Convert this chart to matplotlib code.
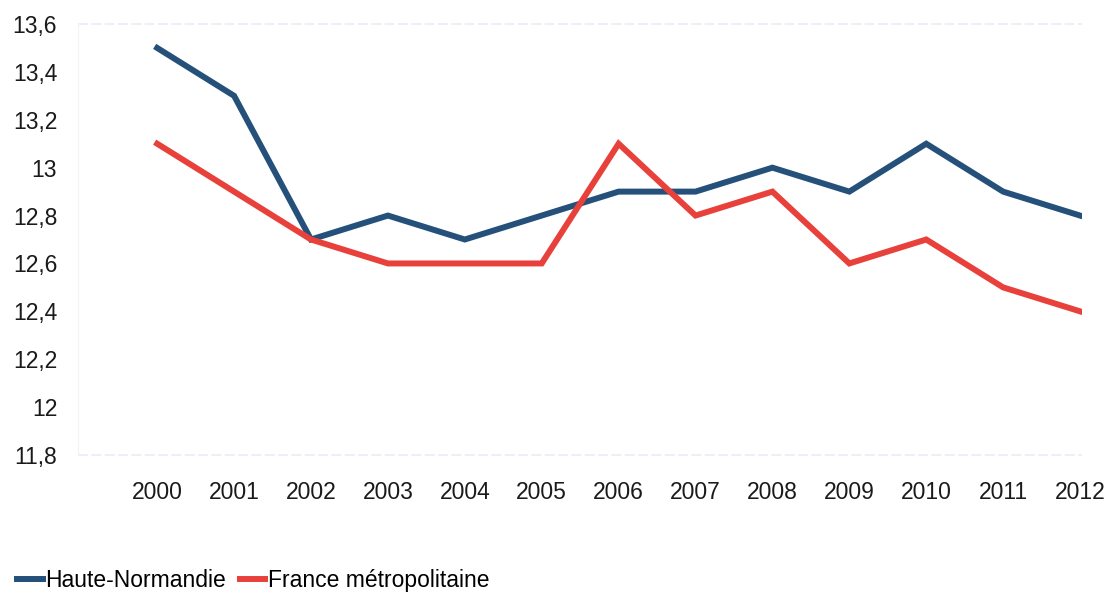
import matplotlib
matplotlib.use('Agg')
import matplotlib.pyplot as plt

years = [2000, 2001, 2002, 2003, 2004, 2005, 2006, 2007, 2008, 2009, 2010, 2011, 2012]
haute_normandie = [13.5, 13.3, 12.7, 12.8, 12.7, 12.8, 12.9, 12.9, 13.0, 12.9, 13.1, 12.9, 12.8]
france_metro = [13.1, 12.9, 12.7, 12.6, 12.6, 12.6, 13.1, 12.8, 12.9, 12.6, 12.7, 12.5, 12.4]
y_ticks = [11.8, 12.0, 12.2, 12.4, 12.6, 12.8, 13.0, 13.2, 13.4, 13.6]
y_labels = ['11,8', '12', '12,2', '12,4', '12,6', '12,8', '13', '13,2', '13,4', '13,6']

plt.rcParams['font.family'] = ['Liberation Sans', 'DejaVu Sans']

fig = plt.figure(figsize=(11.11, 5.94), dpi=100)
ax = fig.add_axes([0.0702, 0.234, 0.904, 0.7256])

ax.plot(years, haute_normandie, color='#24507a', linewidth=4.3, label='Haute-Normandie',
        solid_joinstyle='miter')
ax.plot(years, france_metro, color='#e8413b', linewidth=4.3, label='France métropolitaine',
        solid_joinstyle='miter')

ax.set_xlim(1998.97, 2012.03)
ax.set_ylim(11.8, 13.6)
ax.set_yticks(y_ticks)
ax.set_yticklabels(y_labels)
ax.set_xticks(years)
ax.set_xticklabels([str(y) for y in years])
ax.tick_params(axis='both', length=0, labelsize=16.5, colors='#1a1a1a')
ax.tick_params(axis='x', pad=19)
ax.tick_params(axis='y', pad=15)

for s in ['top', 'right', 'bottom']:
    ax.spines[s].set_visible(False)
ax.spines['left'].set_color('#f2f5f8')
ax.spines['left'].set_linewidth(1)

# faint grid lines only at the limits
ax.axhline(13.6, color='#e6edf3', linewidth=1.2, linestyle=(0, (6, 2)), clip_on=False)
ax.axhline(11.8, color='#e6edf3', linewidth=1.2, linestyle=(0, (6, 2)), clip_on=False)

fig.legend(loc='lower left', bbox_to_anchor=(-0.003, -0.032), ncol=2, frameon=False,
           fontsize=16.5, handlelength=1.1, handletextpad=0.12, columnspacing=0.6)

fig.savefig('out.png', dpi=100, facecolor='white')
